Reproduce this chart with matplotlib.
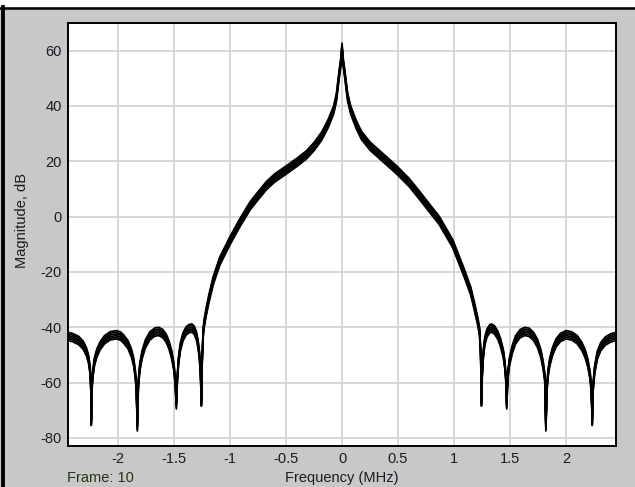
import matplotlib
matplotlib.use('Agg')
import matplotlib.pyplot as plt
from matplotlib.lines import Line2D
from matplotlib.patches import Rectangle

plt.rcParams['font.family'] = ['Liberation Sans', 'DejaVu Sans']

# ---- data (top trace of the overlaid spectra) ----
freq_mhz = [
    -2.45, -2.40, -2.35, -2.31, -2.28, -2.26, -2.248, -2.242, -2.238, -2.232,
    -2.225, -2.21, -2.19, -2.16, -2.12, -2.07, -2.02, -1.98, -1.95, -1.91,
    -1.88, -1.86, -1.845, -1.836, -1.827, -1.818, -1.805, -1.785, -1.755, -1.715,
    -1.67, -1.635, -1.60, -1.57, -1.545, -1.52, -1.50, -1.488, -1.479, -1.47,
    -1.46, -1.445, -1.42, -1.39, -1.36, -1.34, -1.32, -1.30, -1.285, -1.272,
    -1.263, -1.255, -1.248, -1.24, -1.232, -1.215, -1.19, -1.15, -1.09, -1.0,
    -0.91, -0.82, -0.75, -0.675, -0.6, -0.5, -0.4, -0.318, -0.25, -0.18,
    -0.125, -0.075, -0.05, -0.025, -0.01, 0.0, 0.01, 0.025, 0.05, 0.078,
    0.125, 0.173, 0.25, 0.352, 0.49, 0.6, 0.68, 0.75, 0.87, 0.99,
    1.095, 1.15, 1.185, 1.21, 1.228, 1.238, 1.245, 1.252, 1.262, 1.275,
    1.295, 1.32, 1.335, 1.36, 1.39, 1.415, 1.44, 1.455, 1.463, 1.47,
    1.48, 1.495, 1.52, 1.55, 1.59, 1.632, 1.67, 1.71, 1.745, 1.775,
    1.795, 1.81, 1.82, 1.83, 1.84, 1.855, 1.88, 1.91, 1.95, 2.0,
    2.05, 2.10, 2.14, 2.17, 2.195, 2.215, 2.226, 2.234, 2.242, 2.255,
    2.28, 2.31, 2.35, 2.40, 2.45,
]
mag_db = [
    -41.7, -42.3, -43.3, -45.0, -47.5, -50.5, -54.5, -60.0, -72.5, -60.0,
    -55.5, -51.0, -48.0, -45.2, -43.0, -41.6, -41.2, -41.6, -42.7, -44.8,
    -47.8, -51.0, -55.5, -60.0, -74.5, -59.0, -53.0, -48.5, -44.5, -41.6,
    -40.2, -40.0, -40.8, -42.4, -44.8, -48.5, -53.0, -58.5, -66.5, -57.0,
    -51.0, -46.0, -42.0, -39.7, -38.9, -38.8, -39.5, -41.5, -44.5, -49.0,
    -55.0, -65.5, -50.0, -41.0, -37.5, -33.5, -28.5, -21.7, -14.5, -7.2,
    -0.6, 5.4, 9.0, 12.7, 15.5, 18.3, 21.2, 23.8, 26.8, 30.7,
    35.0, 40.0, 44.5, 53.0, 57.5, 62.7, 57.5, 53.0, 44.8, 40.0,
    35.0, 30.9, 27.0, 23.3, 18.3, 13.8, 9.8, 6.2, 0.0, -8.4,
    -19.3, -25.5, -31.5, -36.0, -40.0, -48.0, -65.5, -55.0, -48.0, -43.5,
    -40.5, -39.0, -38.8, -39.4, -41.3, -44.0, -48.0, -52.5, -57.0, -66.5,
    -56.0, -51.0, -46.5, -43.0, -40.8, -40.0, -40.3, -41.8, -44.3, -48.0,
    -52.0, -56.5, -74.5, -60.0, -55.0, -51.0, -47.2, -44.2, -42.2, -41.2,
    -41.6, -43.0, -45.3, -48.0, -51.5, -56.0, -61.0, -72.5, -60.0, -54.0,
    -48.5, -45.5, -43.5, -42.3, -41.8,
]
# level of each overlaid frame trace below the top trace (dB)
trace_offset_db = [0.0, 0.6, 1.2, 1.8, 2.4, 3.0]

x_ticks = [-2, -1.5, -1, -0.5, 0, 0.5, 1, 1.5, 2]
x_tick_labels = ['-2', '-1.5', '-1', '-0.5', '0', '0.5', '1', '1.5', '2']
y_ticks = [-80, -60, -40, -20, 0, 20, 40, 60]
y_tick_labels = ['-80', '-60', '-40', '-20', '0', '20', '40', '60']
x_label = 'Frequency (MHz)'
y_label = 'Magnitude, dB'
frame_label = 'Frame: 10'

# ---- figure ----
W, H = 635, 487
fig = plt.figure(figsize=(W / 100, H / 100), dpi=100, facecolor='#c8c8c8')
ax = fig.add_axes([68 / W, 1 - 445.7 / H, (616 - 68) / W, (445.7 - 22.7) / H])
ax.set_facecolor('white')

for off in trace_offset_db:
    ax.plot(freq_mhz, [v - off for v in mag_db], color='black', lw=1.25)

ax.set_xlim(-2.446, 2.446)
ax.set_ylim(-82.8, 70.1)
ax.set_xticks(x_ticks, x_tick_labels)
ax.set_yticks(y_ticks, y_tick_labels)
ax.grid(True, color='#d4d4d4', lw=1.3)
ax.set_axisbelow(True)
ax.tick_params(length=0, labelsize=10.5, colors='#1a1a22', pad=4.5)
for s in ax.spines.values():
    s.set_color('black')
    s.set_linewidth(1.4)

txt_size = 10.5
fig.text(342 / W, 1 - 478 / H, x_label, ha='center', va='center',
         fontsize=txt_size, color='#1a1a22')
fig.text(67 / W, 1 - 478 / H, frame_label, ha='left', va='center',
         fontsize=txt_size, color='#243416')
fig.text(22 / W, 1 - 221 / H, y_label, ha='center', va='center',
         rotation=90, fontsize=txt_size, color='#1a1a22')

# window frame edges
fig.add_artist(Rectangle((0, 1 - 6.5 / H), 1, 6.5 / H, transform=fig.transFigure,
                         facecolor='white', edgecolor='none'))
fig.add_artist(Line2D([0, 1], [1 - 7.8 / H] * 2, transform=fig.transFigure,
                      color='black', lw=1.8))
fig.add_artist(Line2D([3 / W, 3 / W], [0, 1 - 6.5 / H], transform=fig.transFigure,
                      color='black', lw=2.8))

fig.savefig('out.png', dpi=100, facecolor=fig.get_facecolor())
